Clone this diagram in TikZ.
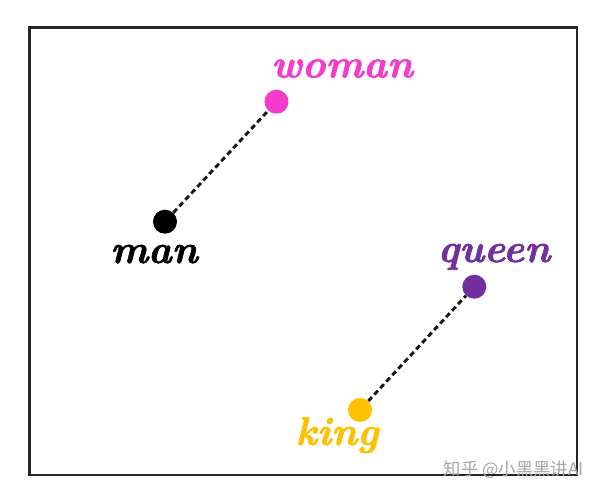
\documentclass[tikz,border=0pt]{standalone}
\usepackage{fontspec}
\newfontfamily\cjkfont{Noto Sans CJK SC}
\newfontfamily\wordfont{Latin Modern Roman}[BoldItalicFeatures={FakeBold=1.6}]
\definecolor{pinkc}{HTML}{F53BCB}
\definecolor{purplec}{HTML}{7030A0}
\definecolor{goldc}{HTML}{FFC000}
\begin{document}
\begin{tikzpicture}[x=0.75pt,y=-0.75pt,
  dot/.style={circle,fill=#1,draw=none,minimum size=18pt,inner sep=0pt},
  word/.style={text=#1,anchor=base,inner sep=0pt,font=\wordfont\fontsize{30}{30}\selectfont\bfseries\itshape},
  link/.style={dashed,dash pattern=on 4pt off 2.6pt,line width=2.2pt,black!90}]
\useasboundingbox (0,0) rectangle (600,498);
\fill[white] (0,0) rectangle (600,498);
\draw[line width=1.8pt,black!85] (29.5,27.5) rectangle (577,475);
\node[dot=pinkc] (woman) at (276.5,101.7) {};
\node[dot=black] (man) at (165,221.7) {};
\node[dot=purplec] (queen) at (474.3,286.7) {};
\node[dot=goldc] (king) at (360,410) {};
\draw[link] (man) -- (woman);
\draw[link] (king) -- (queen);
\node[word=pinkc] (lwoman) at (342,77.5) {woman};
\node[word=black] (lman) at (154,263) {man};
\node[word=purplec] (lqueen) at (494,262) {queen};
\node[word=goldc] (lking) at (337,445) {king};
\node[text=black!35,anchor=east,inner sep=0pt,font=\cjkfont\fontsize{13}{13}\selectfont] (wm) at (584,470) {知乎 @小黑黑讲AI};
\end{tikzpicture}
\end{document}
